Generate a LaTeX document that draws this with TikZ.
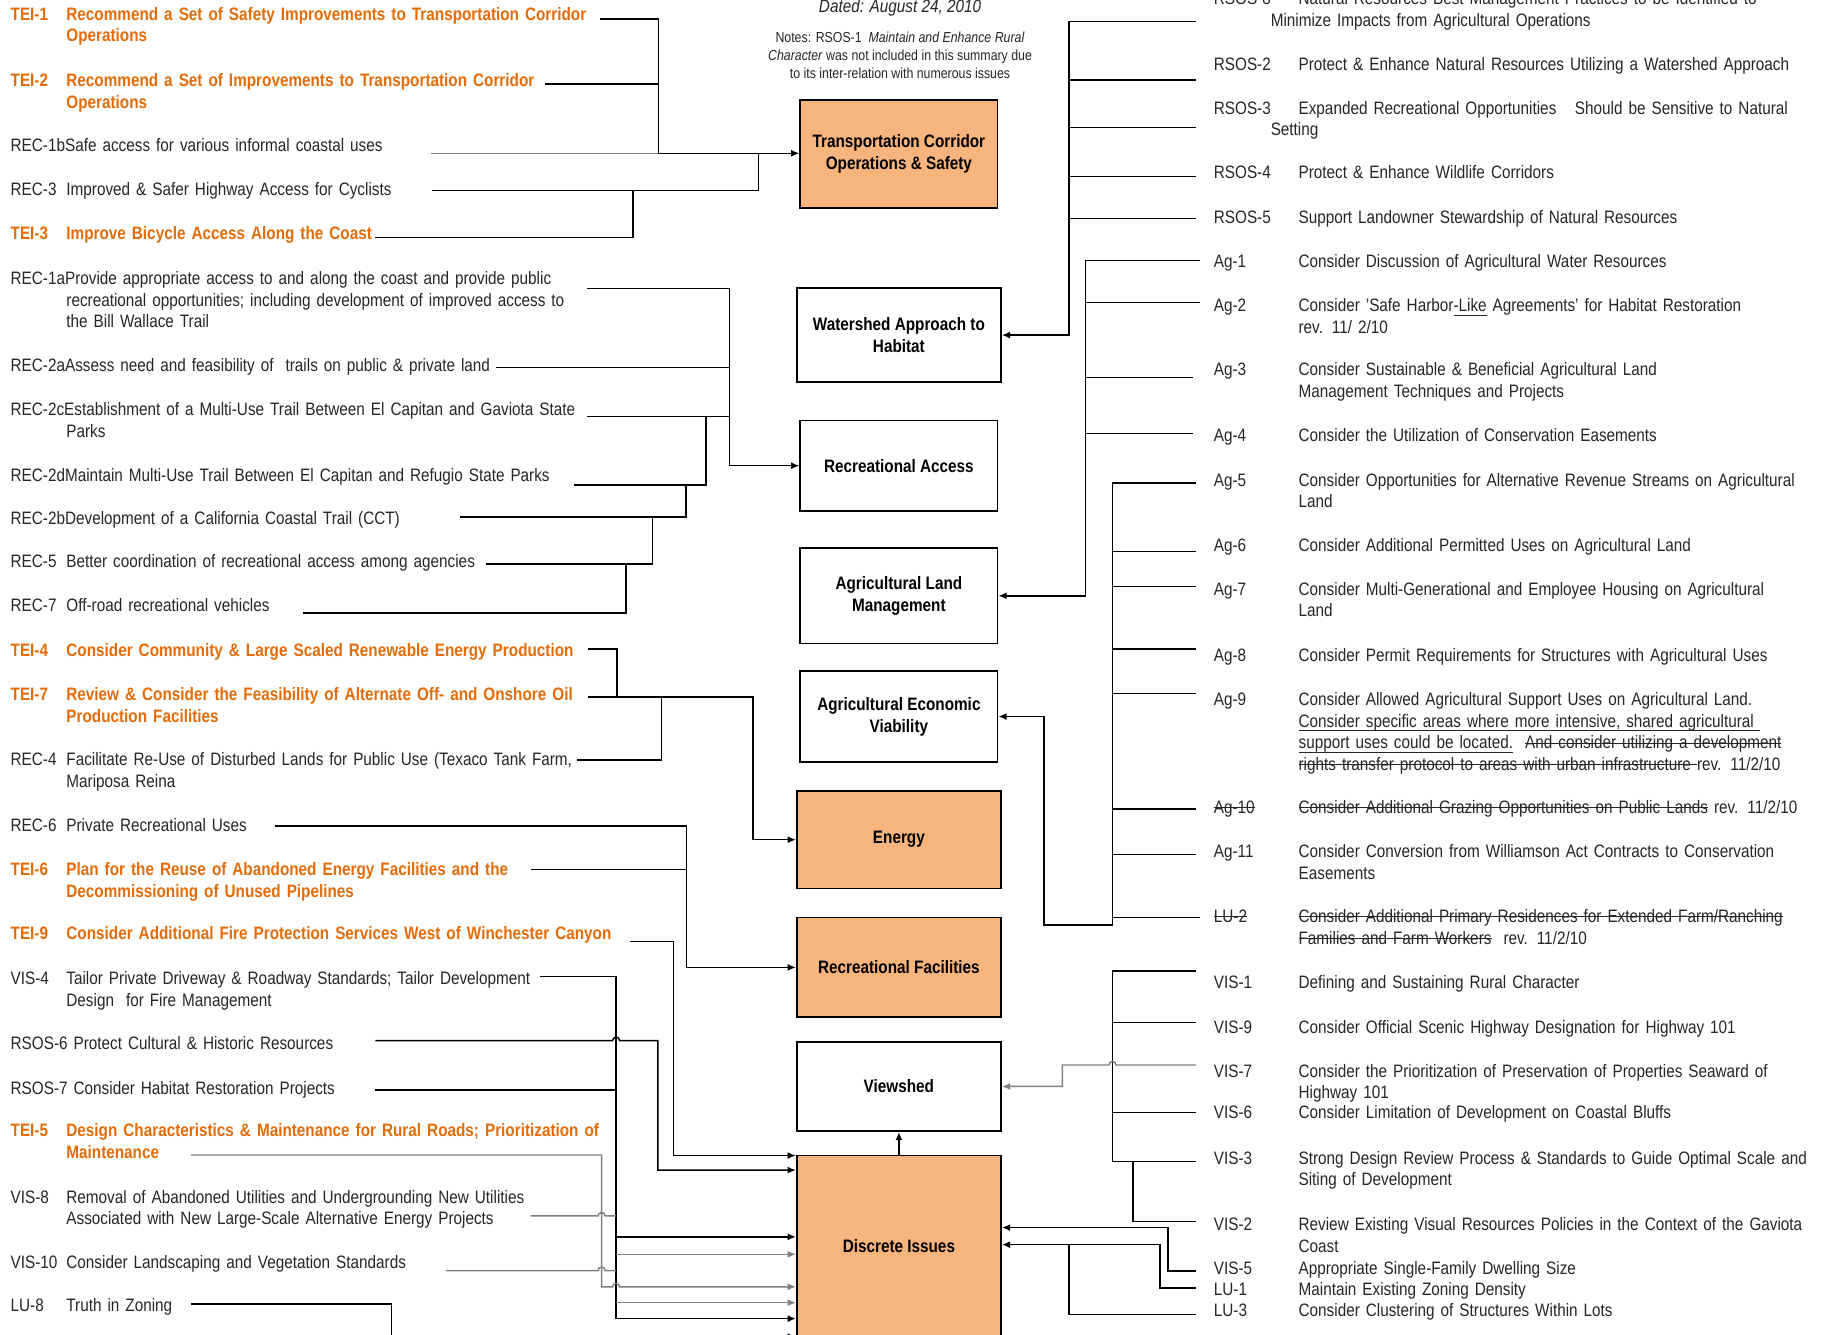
\documentclass[tikz,border=0pt]{standalone}
\usepackage{fontspec}
\setmainfont{Liberation Sans}[FakeStretch=0.85]
\usetikzlibrary{arrows.meta}

\definecolor{teiorange}{HTML}{E36C09}
\definecolor{boxfill}{HTML}{F7B47C}
\definecolor{txt}{HTML}{262626}

\newcommand\lab[1]{\makebox[48pt][l]{#1}}
\newcommand\cont{\hspace*{48pt}}
\newcommand\rlab[1]{\makebox[73pt][l]{#1}}
\newcommand\rcont{\hspace*{73pt}}
\newsavebox\linebox
\newcommand\strike[1]{\leavevmode\sbox\linebox{#1}\rlap{\rule[0.3em]{\wd\linebox}{0.7pt}}\usebox\linebox}
\newcommand\under[1]{\leavevmode\sbox\linebox{#1}\rlap{\rule[-0.2em]{\wd\linebox}{0.7pt}}\usebox\linebox}

\tikzset{
  topic/.style={draw, line width=1.5pt, fill=white, align=center, inner sep=0pt,
    font=\fontsize{15.5}{18.6}\selectfont\bfseries},
  hot/.style={topic, fill=boxfill},
  item/.style={anchor=base west, inner sep=0pt, text width=600pt, align=left, text=txt},
  tei/.style={item, text=teiorange, font=\fontsize{15.5}{18.6}\selectfont\bfseries},
  ln/.style={line width=1.25pt},
  gln/.style={ln, draw=black!50},
  arr/.style={ln, -{Latex[length=7pt,width=6pt]}},
}

\begin{document}
\begin{tikzpicture}[x=1pt, y=-1pt, font=\fontsize{15.5}{18.6}\selectfont]
  \fill[white] (0,0) rectangle (1568,1149);
  \useasboundingbox (0,0) rectangle (1568,1149);

  % heading
  \node[font=\fontsize{15.5}{18.6}\selectfont\itshape, text=txt] (dated) at (775,7) {Dated: August 24, 2010};
  \node[font=\fontsize{12.5}{15.5}\selectfont, align=center, text=txt] (notes) at (775,47.5)
    {Notes: RSOS-1\ \ \textit{Maintain and Enhance Rural}\\\textit{Character} was not included in this summary due\\to its inter-relation with numerous issues};

  % issue boxes
  \node[hot, minimum width=170pt, minimum height=93pt] (trans) at (774,132.5) {Transportation Corridor\\Operations \& Safety};
  \node[topic, minimum width=176pt, minimum height=81pt] (water) at (774,288.5) {Watershed Approach to\\Habitat};
  \node[topic, minimum width=170pt, minimum height=78pt] (recacc) at (774,401) {Recreational Access};
  \node[topic, minimum width=170pt, minimum height=82pt] (agland) at (774,513) {Agricultural Land\\Management};
  \node[topic, minimum width=170pt, minimum height=78pt] (agecon) at (774,617) {Agricultural Economic\\Viability};
  \node[hot, minimum width=176pt, minimum height=84pt] (energy) at (774,723) {Energy};
  \node[hot, minimum width=176pt, minimum height=86pt] (recfac) at (774,833) {Recreational Facilities};
  \node[topic, minimum width=176pt, minimum height=77pt] (view) at (774,935.5) {Viewshed};
  \node[hot, minimum width=176pt, minimum height=156pt] (disc) at (774,1073) {Discrete Issues};

  % left column
  \node[tei] (tei1) at (9,17.5) {\lab{TEI-1}Recommend a Set of Safety Improvements to Transportation Corridor\\\cont Operations};
  \node[tei] (tei2) at (9,74.5) {\lab{TEI-2}Recommend a Set of Improvements to Transportation Corridor\\\cont Operations};
  \node[item] (rec1b) at (9,130.5) {REC-1bSafe access for various informal coastal uses};
  \node[item] (rec3) at (9,168.5) {\lab{REC-3}Improved \& Safer Highway Access for Cyclists};
  \node[tei] (tei3) at (9,206.5) {\lab{TEI-3}Improve Bicycle Access Along the Coast};
  \node[item] (rec1a) at (9,245.2) {REC-1aProvide appropriate access to and along the coast and provide public\\\cont recreational opportunities; including development of improved access to\\\cont the Bill Wallace Trail};
  \node[item] (rec2a) at (9,319.8) {REC-2aAssess need and feasibility of\ \ trails on public \& private land};
  \node[item] (rec2c) at (9,358) {REC-2cEstablishment of a Multi-Use Trail Between El Capitan and Gaviota State\\\cont Parks};
  \node[item] (rec2d) at (9,414.5) {REC-2dMaintain Multi-Use Trail Between El Capitan and Refugio State Parks};
  \node[item] (rec2b) at (9,451.5) {REC-2bDevelopment of a California Coastal Trail (CCT)};
  \node[item] (rec5) at (9,489) {\lab{REC-5}Better coordination of recreational access among agencies};
  \node[item] (rec7) at (9,526.5) {\lab{REC-7}Off-road recreational vehicles};
  \node[tei] (tei4) at (9,565.2) {\lab{TEI-4}Consider Community \& Large Scaled Renewable Energy Production};
  \node[tei] (tei7) at (9,603.5) {\lab{TEI-7}Review \& Consider the Feasibility of Alternate Off- and Onshore Oil\\\cont Production Facilities};
  \node[item] (rec4) at (9,659.5) {\lab{REC-4}Facilitate Re-Use of Disturbed Lands for Public Use (Texaco Tank Farm,\\\cont Mariposa Reina};
  \node[item] (rec6) at (9,716) {\lab{REC-6}Private Recreational Uses};
  \node[tei] (tei6) at (9,754) {\lab{TEI-6}Plan for the Reuse of Abandoned Energy Facilities and the\\\cont Decommissioning of Unused Pipelines};
  \node[tei] (tei9) at (9,809.2) {\lab{TEI-9}Consider Additional Fire Protection Services West of Winchester Canyon};
  \node[item] (vis4) at (9,848) {\lab{VIS-4}Tailor Private Driveway \& Roadway Standards; Tailor Development\\\cont Design\ \ for Fire Management};
  \node[item] (lrsos6) at (9,904) {RSOS-6 Protect Cultural \& Historic Resources};
  \node[item] (rsos7) at (9,942.5) {RSOS-7 Consider Habitat Restoration Projects};
  \node[tei] (tei5) at (9,978.5) {\lab{TEI-5}Design Characteristics \& Maintenance for Rural Roads; Prioritization of\\\cont Maintenance};
  \node[item] (vis8) at (9,1036) {\lab{VIS-8}Removal of Abandoned Utilities and Undergrounding New Utilities\\\cont Associated with New Large-Scale Alternative Energy Projects};
  \node[item] (vis10) at (9,1092.5) {\lab{VIS-10}Consider Landscaping and Vegetation Standards};
  \node[item] (lu8) at (9,1129.2) {\lab{LU-8}Truth in Zoning};

  % right column
  \node[item] (rsos8) at (1045,3.9) {\rlab{RSOS-8}Natural Resources Best Management Practices to be Identified to\\\hspace*{49pt}Minimize Impacts from Agricultural Operations};
  \node[item] (rsos2) at (1045,60.5) {\rlab{RSOS-2}Protect \& Enhance Natural Resources Utilizing a Watershed Approach};
  \node[item] (rsos3) at (1045,98.5) {\rlab{RSOS-3}Expanded Recreational Opportunities\hspace{16pt}Should be Sensitive to Natural\\\hspace*{49pt}Setting};
  \node[item] (rsos4) at (1045,153.5) {\rlab{RSOS-4}Protect \& Enhance Wildlife Corridors};
  \node[item] (rsos5) at (1045,192.5) {\rlab{RSOS-5}Support Landowner Stewardship of Natural Resources};
  \node[item] (ag1) at (1045,230.5) {\rlab{Ag-1}Consider Discussion of Agricultural Water Resources};
  \node[item] (ag2) at (1045,268.5) {\rlab{Ag-2}Consider 'Safe Harbor\under{-Like} Agreements' for Habitat Restoration\\\rcont rev. 11/ 2/10};
  \node[item] (ag3) at (1045,323.5) {\rlab{Ag-3}Consider Sustainable \& Beneficial Agricultural Land\\\rcont Management Techniques and Projects};
  \node[item] (ag4) at (1045,380.5) {\rlab{Ag-4}Consider the Utilization of Conservation Easements};
  \node[item] (ag5) at (1045,418.5) {\rlab{Ag-5}Consider Opportunities for Alternative Revenue Streams on Agricultural\\\rcont Land};
  \node[item] (ag6) at (1045,474.5) {\rlab{Ag-6}Consider Additional Permitted Uses on Agricultural Land};
  \node[item] (ag7) at (1045,512.5) {\rlab{Ag-7}Consider Multi-Generational and Employee Housing on Agricultural\\\rcont Land};
  \node[item] (ag8) at (1045,569.5) {\rlab{Ag-8}Consider Permit Requirements for Structures with Agricultural Uses};
  \node[item] (ag9) at (1045,607.5) {\rlab{Ag-9}Consider Allowed Agricultural Support Uses on Agricultural Land.\\
    \rcont\under{Consider specific areas where more intensive, shared agricultural }\\
    \rcont\under{support uses could be located.}\ \ \strike{And consider utilizing a development}\\
    \rcont\strike{rights transfer protocol to areas with urban infrastructure }rev. 11/2/10};
  \node[item] (ag10) at (1045,700.5) {\rlab{\strike{Ag-10}}\strike{Consider Additional Grazing Opportunities on Public Lands} rev. 11/2/10};
  \node[item] (ag11) at (1045,738.5) {\rlab{Ag-11}Consider Conversion from Williamson Act Contracts to Conservation\\\rcont Easements};
  \node[item] (lu2) at (1045,794.5) {\rlab{\strike{LU-2}}\strike{Consider Additional Primary Residences for Extended Farm/Ranching}\\\rcont\strike{Families and Farm Workers}\ \ rev. 11/2/10};
  \node[item] (vis1) at (1045,851.5) {\rlab{VIS-1}Defining and Sustaining Rural Character};
  \node[item] (vis9) at (1045,889.5) {\rlab{VIS-9}Consider Official Scenic Highway Designation for Highway 101};
  \node[item] (vis7) at (1045,927.5) {\rlab{VIS-7}Consider the Prioritization of Preservation of Properties Seaward of\\\rcont Highway 101};
  \node[item] (vis6) at (1045,963.5) {\rlab{VIS-6}Consider Limitation of Development on Coastal Bluffs};
  \node[item] (vis3) at (1045,1002.5) {\rlab{VIS-3}Strong Design Review Process \& Standards to Guide Optimal Scale and\\\rcont Siting of Development};
  \node[item] (vis2) at (1045,1059.5) {\rlab{VIS-2}Review Existing Visual Resources Policies in the Context of the Gaviota\\\rcont Coast};
  \node[item] (vis5) at (1045,1097.5) {\rlab{VIS-5}Appropriate Single-Family Dwelling Size};
  \node[item] (lu1) at (1045,1115.5) {\rlab{LU-1}Maintain Existing Zoning Density};
  \node[item] (lu3) at (1045,1133.5) {\rlab{LU-3}Consider Clustering of Structures Within Lots};

  % where the connectors leave the items
  \foreach \n/\x/\y in {tei1/517/16.4, tei2/469/72.3, rec1b/371/132, rec3/372/164, tei3/323/204.4,
      rec1a/505.3/248.3, rec2a/427/316.3, rec2c/505.3/358.8, rec2d/494/417.6, rec2b/396/445,
      rec5/418.8/485.7, rec7/261/528, tei4/506.6/558.8, tei7/506.6/600, rec4/497/654.4,
      rec6/236.4/711.2, tei6/457/748.5, tei9/542.7/810.8, vis4/465/841, lrsos6/323.3/896,
      rsos7/323.3/938.6, tei5/164.4/994.5, vis8/457/1047, vis10/384/1094, lu8/164.4/1122.8}
    \coordinate (c-\n) at (\x,\y);
  \foreach \n/\x/\y in {rsos8/1030/18.7, rsos2/1030/68.9, rsos3/1030/110, rsos4/1030/152, rsos5/1030/188,
      ag1/1033/224.5, ag2/1033/260.6, ag3/1027/325.2, ag4/1027/373.1, ag5/1030/416, ag6/1030/475,
      ag7/1030/505, ag8/1030/558.8, ag9/1030/597, ag10/1030/696.6, ag11/1030/736, lu2/1033/790,
      vis1/1030/836, vis9/1030/880.3, vis7/1030/917, vis6/1030/957.8, vis3/1030/1000.3,
      vis2/1030/1052, vis5/1030/1094.5, lu1/1030/1109, lu3/1030/1132}
    \coordinate (c-\n) at (\x,\y);

  % left connectors
  \draw[ln] (c-tei1) -| (567,132);
  \draw[ln] (c-tei2) -- (c-tei2 -| 567,0);
  \draw[gln] (c-rec1b) -- (c-rec1b -| 567,0);
  \draw[arr] (c-rec1b -| 567,0) -- (c-rec1b -| trans.west);
  \draw[ln] (c-rec3) -| (653,132);
  \draw[ln] (c-tei3) -| (545,164);

  \draw[arr] (c-rec1a) -| (628.2,401) -- (recacc.west);
  \foreach \n in {rec2a,rec2c} \draw[ln] (c-\n) -- (c-\n -| 628.2,0);
  \draw[ln] (c-rec2d) -| (608,358.8);
  \draw[ln] (c-rec2b) -| (590.8,417.6);
  \draw[ln] (c-rec5) -| (562,445);
  \draw[ln] (c-rec7) -| (539,485.7);

  \draw[ln] (c-tei4) -| (531.4,600);
  \draw[arr] (c-tei7) -| (648.5,723) -- (energy.west);
  \draw[ln] (c-rec4) -| (569.7,600);

  \draw[arr] (c-rec6) -| (590.9,833) -- (recfac.west);
  \draw[ln] (c-tei6) -- (c-tei6 -| 590.9,0);

  \draw[arr] (c-tei9) -| (580,995) -- (580,995 -| disc.west);
  \draw[arr] (c-vis4) -| (530.5,1135.4) -- (530.5,1135.4 -| disc.west);
  \draw[ln] (c-rsos7) -- (c-rsos7 -| 530.5,0);
  \draw[arr] (c-lrsos6) -- (527.5,896) arc(180:360:3) -| (566.5,1007.5) -- (566.5,1007.5 -| disc.west);
  \draw[arr, draw=black!50] (c-tei5) -| (518,1108) -- (527.5,1108) arc(180:360:3) -- (533.5,1108 -| disc.west);
  \draw[gln] (c-vis8) -- (515,1047) arc(180:360:3) -- (530.5,1047);
  \draw[gln] (c-vis10) -- (515,1094) arc(180:360:3) -- (530.5,1094);
  \draw[arr] (530.5,1065) -- (530.5,1065 -| disc.west);
  \foreach \y in {1080,1121.7} \draw[arr, draw=black!50] (530.5,\y) -- (530.5,\y -| disc.west);
  \draw[arr] (c-lu8) -| (336.9,1151) -- (336.9,1151 -| disc.west);

  % right connectors
  \draw[arr] (c-rsos8) -| (920.6,288.5) -- (water.east);
  \foreach \n in {rsos2,rsos3,rsos4,rsos5} \draw[ln] (c-\n) -- (c-\n -| 920.6,0);
  \draw[arr] (c-ag1) -| (934.5,513) -- (agland.east);
  \foreach \n in {ag2,ag3,ag4} \draw[ln] (c-\n) -- (c-\n -| 934.5,0);
  \draw[arr] (c-ag5) -| (958,796.5) -| (899,617) -- (agecon.east);
  \foreach \n in {ag6,ag7,ag8,ag9,ag10,ag11,lu2} \draw[ln] (c-\n) -- (c-\n -| 958,0);
  \draw[ln] (c-vis1) -| (958,1000.3) -- (c-vis3);
  \foreach \n in {vis9,vis6} \draw[ln] (c-\n) -- (c-\n -| 958,0);
  \draw[ln] (c-vis3 -| 975.4,0) |- (c-vis2);
  \draw[arr, draw=black!50] (c-vis7) -- (961,917) arc(0:-180:3) -| (914.7,935.5) -- (view.east);
  \draw[arr] (c-vis5) -| (1005.7,1057) -- (1005.7,1057 -| disc.east);
  \draw[arr] (c-lu1) -| (999,1071.7) -- (999,1071.7 -| disc.east);
  \draw[ln] (c-lu3) -| (920.5,1071.7);
  \draw[arr] (disc.north) -- (view.south);
\end{tikzpicture}
\end{document}
